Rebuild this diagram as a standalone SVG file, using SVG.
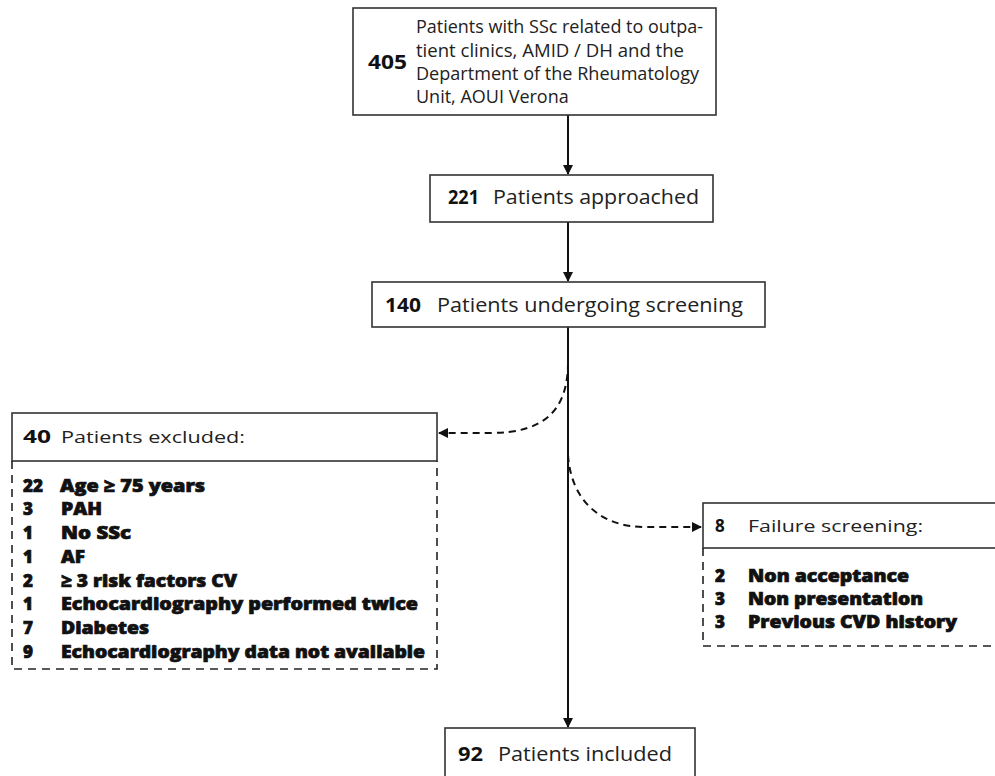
<svg xmlns="http://www.w3.org/2000/svg" width="995" height="776" viewBox="0 0 995 776">
<defs>
<style>
.box{fill:#fff;stroke:#333;stroke-width:1.6}
.dash{fill:none;stroke:#222;stroke-width:1.6;stroke-dasharray:8 6}
.t{font-family:"Open Sans","Liberation Sans",sans-serif;font-size:20px;fill:#222}
.tt{font-family:"Open Sans","Liberation Sans",sans-serif;font-size:18px;fill:#222}
.th{font-family:"Open Sans","Liberation Sans",sans-serif;font-size:17px;fill:#222}
.n{font-family:"Open Sans","Liberation Sans",sans-serif;font-weight:bold;fill:#111}
.li{font-family:"Open Sans","Liberation Sans",sans-serif;font-weight:800;font-size:17px;fill:#111;stroke:#111;stroke-width:0.7}
.con{fill:none;stroke:#111;stroke-width:2}
.dcon{fill:none;stroke:#111;stroke-width:2;stroke-dasharray:7 5}
</style>
<marker id="ah" viewBox="0 0 10 10" refX="9" refY="5" markerWidth="5" markerHeight="5" orient="auto" markerUnits="strokeWidth">
<path d="M0,0 L10,5 L0,10 z" fill="#111"/>
</marker>
</defs>
<rect width="995" height="776" fill="#fff"/>

<g id="connectors">
<line class="con" x1="568" y1="115" x2="568" y2="174" marker-end="url(#ah)"/>
<line class="con" x1="568" y1="222" x2="568" y2="281" marker-end="url(#ah)"/>
<line class="con" x1="568" y1="327" x2="568" y2="727" marker-end="url(#ah)"/>
<path class="dcon" d="M568,362 C568,410 545,433 490,433 L439,433" marker-end="url(#ah)"/>
<path class="dcon" d="M568,455 C571,500 600,527 645,527 L701,527" marker-end="url(#ah)"/>
</g>

<g id="node-405">
<rect class="box" x="353" y="8" width="363" height="107"/>
<text class="n" x="368" y="69" font-size="19" textLength="39" lengthAdjust="spacingAndGlyphs">405</text>
<text class="tt" x="416" y="33" textLength="287" lengthAdjust="spacingAndGlyphs">Patients with SSc related to outpa-</text>
<text class="tt" x="416" y="57" textLength="268" lengthAdjust="spacingAndGlyphs">tient clinics, AMID / DH and the</text>
<text class="tt" x="416" y="80" textLength="283" lengthAdjust="spacingAndGlyphs">Department of the Rheumatology</text>
<text class="tt" x="416" y="103">Unit, AOUI Verona</text>
</g>

<g id="node-221">
<rect class="box" x="430" y="175" width="283" height="47"/>
<text class="n" x="448" y="204" font-size="19" textLength="31" lengthAdjust="spacingAndGlyphs">221</text>
<text class="t" x="493" y="204" textLength="206" lengthAdjust="spacingAndGlyphs">Patients approached</text>
</g>

<g id="node-140">
<rect class="box" x="372" y="282" width="393" height="45"/>
<text class="n" x="385" y="312" font-size="19" textLength="36" lengthAdjust="spacingAndGlyphs">140</text>
<text class="t" x="437" y="312" textLength="306" lengthAdjust="spacingAndGlyphs">Patients undergoing screening</text>
</g>

<g id="node-excluded">
<rect class="box" x="12" y="413" width="425" height="48"/>
<text class="n" x="23" y="443" font-size="17" textLength="28" lengthAdjust="spacingAndGlyphs">40</text>
<text class="th" x="61" y="443" textLength="184" lengthAdjust="spacingAndGlyphs">Patients excluded:</text>
<path class="dash" d="M12,461 L12,669 L437,669 L437,461"/>
<text class="li" x="23" y="492">22</text><text class="li" x="60" y="492" textLength="145" lengthAdjust="spacingAndGlyphs">Age ≥ 75 years</text>
<text class="li" x="23" y="515">3</text><text class="li" x="61" y="515" textLength="41" lengthAdjust="spacingAndGlyphs">PAH</text>
<text class="li" x="23" y="539">1</text><text class="li" x="61" y="539" textLength="70" lengthAdjust="spacingAndGlyphs">No SSc</text>
<text class="li" x="23" y="563">1</text><text class="li" x="61" y="563" textLength="24" lengthAdjust="spacingAndGlyphs">AF</text>
<text class="li" x="23" y="587">2</text><text class="li" x="61" y="587" textLength="176" lengthAdjust="spacingAndGlyphs">≥ 3 risk factors CV</text>
<text class="li" x="23" y="610">1</text><text class="li" x="61" y="610" textLength="357" lengthAdjust="spacingAndGlyphs">Echocardiography performed twice</text>
<text class="li" x="23" y="634">7</text><text class="li" x="61" y="634" textLength="88" lengthAdjust="spacingAndGlyphs">Diabetes</text>
<text class="li" x="23" y="658">9</text><text class="li" x="61" y="658" textLength="364" lengthAdjust="spacingAndGlyphs">Echocardiography data not available</text>
</g>

<g id="node-failure">
<rect class="box" x="703" y="503" width="300" height="45"/>
<text class="n" x="715" y="532" font-size="17">8</text>
<text class="th" x="748" y="532" textLength="175" lengthAdjust="spacingAndGlyphs">Failure screening:</text>
<path class="dash" d="M703,548 L703,646 L995,646"/>
<text class="li" x="715" y="582">2</text><text class="li" x="748" y="582" textLength="161" lengthAdjust="spacingAndGlyphs">Non acceptance</text>
<text class="li" x="715" y="605">3</text><text class="li" x="748" y="605" textLength="175" lengthAdjust="spacingAndGlyphs">Non presentation</text>
<text class="li" x="715" y="628">3</text><text class="li" x="748" y="628" textLength="209" lengthAdjust="spacingAndGlyphs">Previous CVD history</text>
</g>

<g id="node-92">
<rect class="box" x="445" y="728" width="250" height="60"/>
<text class="n" x="458" y="761" font-size="19" textLength="25" lengthAdjust="spacingAndGlyphs">92</text>
<text class="t" x="498" y="761" textLength="174" lengthAdjust="spacingAndGlyphs">Patients included</text>
</g>
</svg>
